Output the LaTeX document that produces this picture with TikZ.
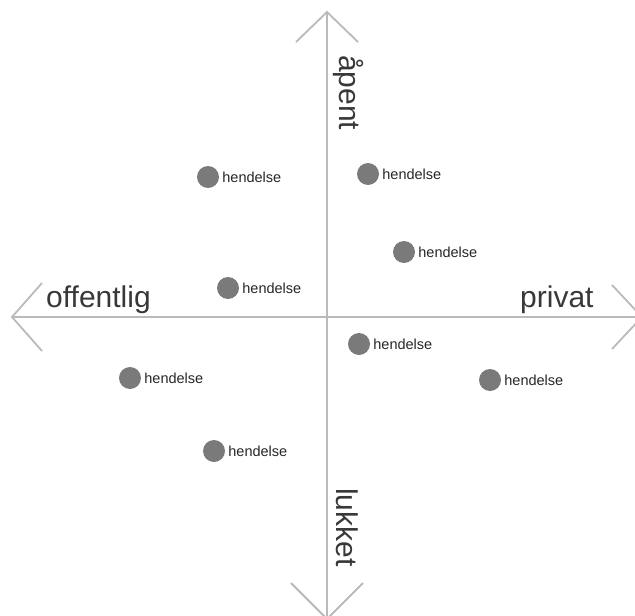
\documentclass[tikz,border=0pt]{standalone}
\usepackage{fontspec}
\setmainfont{Liberation Sans}
\usetikzlibrary{positioning}
\tikzset{
axis/.style={
	% light grey lines
	draw=black!27,
	line width=1.8pt
},
axis_label/.style={
	% big thin text
	text=black!78,
	font=\fontsize{30}{36}\selectfont,
	inner sep=0pt
},
event/.style={
	% the dot:
	circle,
	fill=black!52,
	minimum size=22pt,
	inner sep=0pt,
	% the text next to it
	label={[text=black!85,font=\fontsize{14.5}{17}\selectfont,inner sep=2pt,label distance=1pt]right:hendelse}
}
}

\begin{document}
\begin{tikzpicture}[x=1pt,y=-1pt]
			\useasboundingbox (0,0) rectangle (635,616);
			% ends of the axes
			\coordinate (top) at (327,12);
			\coordinate (bottom) at (327,619);
			\coordinate (left) at (12,317);
			\coordinate (right) at (642,317);

			\draw[axis] (top) -- (bottom);
			\draw[axis] (left) -- (right);
			\draw[axis] (top) ++(-31,30) -- (top) -- ++(31,30);
			\draw[axis] (bottom) ++(-36,-36) -- (bottom) -- ++(36,-36);
			\draw[axis] (left) ++(30,-34) -- (left) -- ++(30,34);
			\draw[axis] (right) ++(-30,-32) -- (right) -- ++(-30,32);

			\node[axis_label,rotate=-90,anchor=base west] (open) at (339,55) {åpent};
			\node[axis_label,rotate=-90,anchor=base west] (closed) at (336,488) {lukket};
			\node[axis_label,anchor=base west] (public) at (46,307) {offentlig};
			\node[axis_label,anchor=base west] (private) at (520,307) {privat};

			\node[event] (e1) at (208,177) {};
			\node[event] (e2) at (368,174) {};
			\node[event] (e3) at (404,252) {};
			\node[event] (e4) at (228,288) {};
			\node[event] (e5) at (359,344) {};
			\node[event] (e6) at (130,378) {};
			\node[event] (e7) at (490,380) {};
			\node[event] (e8) at (214,451) {};
		\end{tikzpicture}
\end{document}
